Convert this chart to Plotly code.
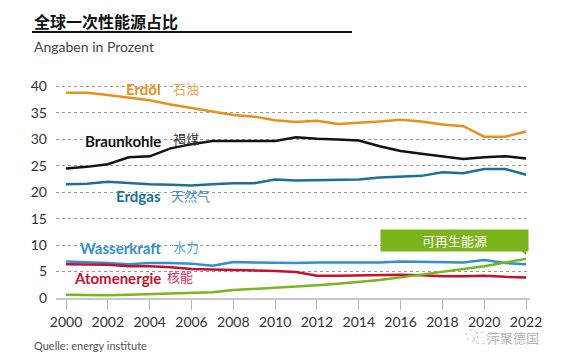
import plotly.graph_objects as go

years = list(range(2000, 2023))
oil = [38.8, 38.8, 38.4, 37.9, 37.4, 36.6, 35.9, 35.2, 34.6, 34.3, 33.6, 33.3, 33.5, 32.9, 33.1, 33.4, 33.7, 33.4, 32.8, 32.5, 30.5, 30.5, 31.5]
coal = [24.5, 24.8, 25.3, 26.6, 26.8, 28.3, 29.1, 29.7, 29.7, 29.7, 29.7, 30.4, 30.1, 30.0, 29.8, 28.7, 27.8, 27.3, 26.8, 26.3, 26.6, 26.8, 26.4]
gas = [21.5, 21.6, 22.0, 21.7, 21.5, 21.4, 21.3, 21.5, 21.7, 21.7, 22.4, 22.2, 22.3, 22.4, 22.4, 22.8, 22.9, 23.1, 23.8, 23.6, 24.4, 24.4, 23.3]
hydro = [6.9, 6.8, 6.6, 6.4, 6.6, 6.6, 6.5, 6.1, 6.8, 6.7, 6.6, 6.6, 6.7, 6.7, 6.7, 6.7, 6.9, 6.8, 6.8, 6.7, 7.2, 6.6, 6.4]
nuclear = [6.4, 6.4, 6.3, 6.0, 6.0, 5.8, 5.5, 5.4, 5.3, 5.3, 5.1, 4.9, 4.2, 4.2, 4.3, 4.3, 4.4, 4.3, 4.1, 4.1, 4.2, 4.0, 3.9]
renew = [0.6, 0.5, 0.5, 0.6, 0.7, 0.8, 1.0, 1.1, 1.5, 1.7, 1.9, 2.1, 2.4, 2.7, 3.0, 3.4, 3.9, 4.4, 4.9, 5.4, 6.0, 6.7, 7.4]

y_ticks = [0, 5, 10, 15, 20, 25, 30, 35, 40]
x_ticks = list(range(2000, 2023, 2))

C_OIL = "#e8901a"
C_COAL = "#111111"
C_GAS = "#1b6f98"
C_HYDRO = "#2f8fd0"
C_NUC = "#c8102e"
C_REN = "#7ab51d"

# page body has an 8px margin; figure coordinates are shifted accordingly
OFF = 8
W, H = 567 - OFF, 361 - 2 * OFF
ML, MR, MT = 56 - OFF, 37, 80 - OFF
MB = H - (298 - OFF)
PW, PH = W - ML - MR, H - MT - MB

def px(x):
    return (x - OFF - ML) / PW

def py(y):
    return (H - MB - (y - OFF)) / PH

FONT = "Lato, 'Noto Sans CJK SC', sans-serif"
CJK = "'Noto Sans CJK SC', sans-serif"

fig = go.Figure()
series = [(oil, C_OIL), (coal, C_COAL), (gas, C_GAS), (hydro, C_HYDRO), (nuclear, C_NUC), (renew, C_REN)]
for vals, col in series:
    fig.add_trace(go.Scatter(x=years, y=vals, mode="lines",
                             line=dict(color=col, width=2.5), hoverinfo="skip", showlegend=False))

ann = []
labels = [
    ("Erdöl", "石油", 39.5, 39.7, C_OIL, "#f0a550", 0),
    ("Braunkohle", "褐煤", 29.7, 30.2, "#111111", "#333333", 0),
    ("Erdgas", "天然气", 19.3, 19.4, C_GAS, "#3f8cc8", -2),
    ("Wasserkraft", "水力", 9.45, 9.8, C_HYDRO, "#4aa8e0", 0),
    ("Atomenergie", "核能", 3.8, 4.0, C_NUC, "#e03060", -6),
]
for de, zh, yd, yz, cd, cz, dx in labels:
    ann.append(dict(x=2004.64, y=yd, xref="x", yref="y", text="<b>" + de + "</b>",
                    showarrow=False, xanchor="right", yanchor="middle",
                    font=dict(family=FONT, size=15, color=cd)))
    ann.append(dict(x=2005.02 + dx / 20.9, y=yz, xref="x", yref="y", text=zh,
                    showarrow=False, xanchor="left", yanchor="middle",
                    font=dict(family=CJK, size=13, color=cz)))

# callout
ann.append(dict(x=2015.03, y=13.0, xref="x", yref="y", text="可再生能源", showarrow=False,
                xanchor="left", yanchor="top", width=145, height=19, align="center",
                bgcolor=C_REN, borderpad=1,
                font=dict(family=CJK, size=13, color="white")))

# title, subtitle, source, watermark
ann.append(dict(x=px(33), y=1 + MT / PH, xref="paper", yref="paper", text="<b>全球一次性能源占比</b>",
                showarrow=False, xanchor="left", yanchor="top", borderpad=0,
                font=dict(family=CJK, size=16, color="#111111")))
ann.append(dict(x=px(32), y=py(47), xref="paper", yref="paper", text="Angaben in Prozent",
                showarrow=False, xanchor="left", yanchor="middle",
                font=dict(family=FONT, size=14, color="#444444")))
ann.append(dict(x=px(32), y=py(345), xref="paper", yref="paper", text="Quelle: energy institute",
                showarrow=False, xanchor="left", yanchor="middle",
                font=dict(family=FONT, size=11, color="#555555")))
ann.append(dict(x=px(541), y=py(337), xref="paper", yref="paper", text="萍聚德国",
                showarrow=False, xanchor="right", yanchor="middle",
                font=dict(family=CJK, size=13, color="#b5b5b5")))

shapes = [
    dict(type="line", xref="paper", yref="paper", x0=px(32), x1=px(352), y0=py(32), y1=py(32),
         line=dict(color="#111111", width=2)),
    dict(type="path", xref="x", yref="y",
         path="M 2021.75 8.95 L 2022.0 8.95 L 2022.0 8.2 Z",
         fillcolor=C_REN, line=dict(width=0)),
    dict(type="circle", xref="paper", yref="paper", x0=px(466), x1=px(478), y0=py(341), y1=py(330),
         line=dict(color="#c0c0c0", width=1, dash="dot")),
    dict(type="circle", xref="paper", yref="paper", x0=px(474), x1=px(488), y0=py(344), y1=py(332),
         line=dict(color="#c0c0c0", width=1, dash="dot")),
]

fig.update_layout(
    width=W, height=H,
    margin=dict(l=ML, r=MR, t=MT, b=MB),
    paper_bgcolor="white", plot_bgcolor="white",
    font=dict(family=FONT, size=14, color="#333333"),
    annotations=ann, shapes=shapes,
    xaxis=dict(range=[1999.52, 2022.19], tickvals=x_ticks, ticks="outside", ticklen=10,
               tickcolor="#b5b5b5", tickwidth=1, showgrid=False, zeroline=False,
               showline=True, linecolor="#c8c8c8", linewidth=2,
               tickfont=dict(family=FONT, size=14, color="#333333")),
    yaxis=dict(range=[0, 41.23], tickvals=y_ticks, showgrid=True, gridcolor="#9a9a9a",
               griddash="dot", gridwidth=1, zeroline=False, showline=False,
               ticks="", ticklabelstandoff=8,
               tickfont=dict(family=FONT, size=14, color="#333333")),
)

fig.write_html("out.html")
